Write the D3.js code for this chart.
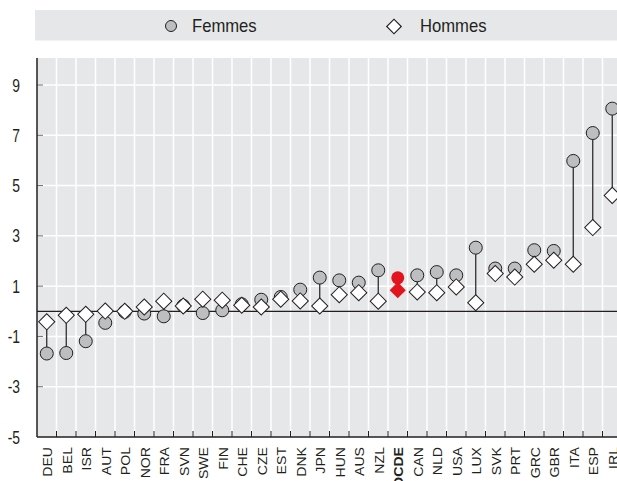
<!DOCTYPE html>
<html>
<head>
<meta charset="utf-8">
<script src="https://cdn.jsdelivr.net/npm/d3@7"></script>
<style>
  body { margin: 0; background: #fff; }
  svg { display: block; font-family: "Liberation Sans", Arial, sans-serif; }
</style>
</head>
<body>
<svg></svg>
<script>
const countries = ["DEU", "BEL", "ISR", "AUT", "POL", "NOR", "FRA", "SVN", "SWE", "FIN",
  "CHE", "CZE", "EST", "DNK", "JPN", "HUN", "AUS", "NZL", "OCDE", "CAN",
  "NLD", "USA", "LUX", "SVK", "PRT", "GRC", "GBR", "ITA", "ESP", "IRL"];
const femmes = [-1.68, -1.66, -1.19, -0.46, -0.02, -0.09, -0.2, 0.22, -0.07, 0.04,
  0.28, 0.46, 0.57, 0.86, 1.34, 1.23, 1.14, 1.63, 1.33, 1.43,
  1.56, 1.43, 2.53, 1.7, 1.7, 2.43, 2.4, 5.98, 7.09, 8.06];
const hommes = [-0.42, -0.16, -0.12, 0.01, 0.0, 0.17, 0.4, 0.21, 0.48, 0.44,
  0.24, 0.17, 0.48, 0.41, 0.21, 0.66, 0.74, 0.4, 0.84, 0.77,
  0.74, 0.97, 0.34, 1.5, 1.36, 1.87, 2.03, 1.87, 3.33, 4.61];
const yTicks = [9, 7, 5, 3, 1, -1, -3, -5];
const legendLabels = ["Femmes", "Hommes"];

const width = 617;
const height = 481;
const bg = "#e6e7e8";
const dark = "#231f20";
const red = "#e2141f";

const svg = d3.select("svg").attr("width", width).attr("height", height);

const data = countries.map((c, i) => ({ c: c, f: femmes[i], h: hommes[i] }));

const x = d3.scaleBand().domain(countries).range([37, 37 + 30 * 19.5]);
const y = d3.scaleLinear().domain([-5, 9]).range([437, 85]);
const panelTop = 58;

// legend
svg.append("rect").attr("x", 35).attr("y", 10).attr("width", width - 35).attr("height", 30.5).style("fill", bg);
svg.append("circle").attr("cx", 171).attr("cy", 26).attr("r", 5.5)
  .style("fill", "#bcbec0").style("stroke", dark).style("stroke-width", 1);
svg.append("text").attr("transform", "translate(192,32.3) scale(0.9,1)").text(legendLabels[0])
  .style("font-size", "18.5px").style("fill", dark);
svg.append("path")
  .attr("d", d3.symbol().type(d3.symbolSquare).size(105)())
  .attr("transform", "translate(394,26.5) rotate(45)")
  .style("fill", "#fff").style("stroke", dark).style("stroke-width", 1.2);
svg.append("text").attr("transform", "translate(420,32.3) scale(0.9,1)").text(legendLabels[1])
  .style("font-size", "18.5px").style("fill", dark);

// panel
const g = svg.append("g");
g.append("rect").attr("x", 37).attr("y", panelTop).attr("width", width - 37).attr("height", y(-5) - panelTop).style("fill", bg);

g.selectAll(".hgrid").data(yTicks.filter((d) => d > -5)).enter().append("line")
  .attr("x1", 37).attr("x2", width).attr("y1", (d) => y(d)).attr("y2", (d) => y(d))
  .style("stroke", "#fff").style("stroke-width", 1.5);

g.selectAll(".vgrid").data(countries.slice(1)).enter().append("line")
  .attr("x1", (d) => x(d)).attr("x2", (d) => x(d)).attr("y1", panelTop).attr("y2", y(-5))
  .style("stroke", "#fff").style("stroke-width", 1.5);

// ticks
g.selectAll(".xtick").data(countries.slice(1)).enter().append("line")
  .attr("x1", (d) => x(d)).attr("x2", (d) => x(d)).attr("y1", y(-5) - 6).attr("y2", y(-5))
  .style("stroke", dark).style("stroke-width", 1);
g.selectAll(".ytick").data(yTicks.filter((d) => d > -5)).enter().append("line")
  .attr("x1", 37).attr("x2", 43).attr("y1", (d) => y(d)).attr("y2", (d) => y(d))
  .style("stroke", "#6d6e71").style("stroke-width", 1);

// zero line
g.append("line").attr("x1", 37).attr("x2", width).attr("y1", y(0)).attr("y2", y(0))
  .style("stroke", dark).style("stroke-width", 1.2);

// axes lines
g.append("line").attr("x1", 37).attr("x2", 37).attr("y1", panelTop).attr("y2", y(-5))
  .style("stroke", dark).style("stroke-width", 1.5);
g.append("line").attr("x1", 37).attr("x2", width).attr("y1", y(-5)).attr("y2", y(-5))
  .style("stroke", dark).style("stroke-width", 1.5);

// y labels
svg.selectAll(".ylab").data(yTicks).enter().append("text")
  .attr("transform", (d) => "translate(20," + (y(d) + 6.6) + ") scale(0.75,1)")
  .attr("text-anchor", "end")
  .text((d) => d).style("font-size", "18.5px").style("fill", dark);

// x labels
svg.selectAll(".xlab").data(countries).enter().append("text")
  .attr("transform", (d) => "translate(" + (x(d) + x.bandwidth() / 2 + 5.5) + ",447) rotate(-90) scale(1.12,1)")
  .attr("text-anchor", "end")
  .text((d) => d)
  .style("font-size", "12.6px")
  .style("font-weight", (d) => (d == "OCDE" ? 700 : 400))
  .style("fill", dark);

const cx = (d) => x(d.c) + x.bandwidth() / 2;

// connectors
g.selectAll(".stem").data(data).enter().append("line")
  .attr("x1", cx).attr("x2", cx).attr("y1", (d) => y(d.f)).attr("y2", (d) => y(d.h))
  .style("stroke", (d) => (d.c == "OCDE" ? red : dark)).style("stroke-width", 1.2);

g.selectAll(".fem").data(data).enter().append("circle")
  .attr("cx", cx).attr("cy", (d) => y(d.f)).attr("r", 6.5)
  .style("fill", (d) => (d.c == "OCDE" ? red : "#bcbec0"))
  .style("stroke", (d) => (d.c == "OCDE" ? "none" : dark)).style("stroke-width", 1);

const diamond = d3.symbol().type(d3.symbolSquare).size(130)();
g.selectAll(".hom").data(data).enter().append("path")
  .attr("d", diamond)
  .attr("transform", (d) => "translate(" + cx(d) + "," + y(d.h) + ") rotate(45)")
  .style("fill", (d) => (d.c == "OCDE" ? red : "#fff"))
  .style("stroke", (d) => (d.c == "OCDE" ? "none" : dark)).style("stroke-width", 1);
</script>
</body>
</html>
